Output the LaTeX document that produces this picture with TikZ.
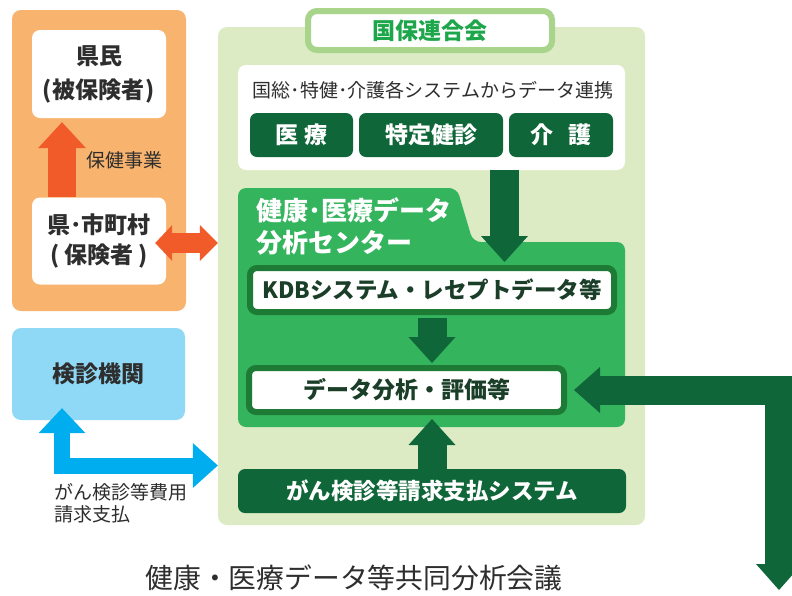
\documentclass[tikz,border=0pt]{standalone}
\usepackage{fontspec}
\setmainfont{Noto Sans CJK JP}
\usetikzlibrary{arrows.meta,calc}
\definecolor{orangeP}{HTML}{F8B46E}
\definecolor{orangeA}{HTML}{F15A29}
\definecolor{lgreen}{HTML}{DDEBC5}
\definecolor{kborder}{HTML}{A9D48C}
\definecolor{ktext}{HTML}{1EA64B}
\definecolor{dkgreen}{HTML}{0F6639}
\definecolor{mgreen}{HTML}{35B45E}
\definecolor{kdbborder}{HTML}{1D7B35}
\definecolor{lblue}{HTML}{8FD8F6}
\definecolor{blueA}{HTML}{00AEEF}
\definecolor{tdark}{HTML}{2E2E2E}
\definecolor{kdbtext}{HTML}{1A3E27}
\newcommand{\fs}[2]{\fontsize{#1}{#2}\selectfont}
\begin{document}
\begin{tikzpicture}[x=1pt,y=-1pt,
  panel/.style={inner sep=0pt, rounded corners=9pt},
  wbox/.style={fill=white, inner sep=0pt, rounded corners=8pt, align=center, text=tdark},
  dbox/.style={fill=dkgreen, inner sep=0pt, rounded corners=7pt, align=center, text=white, font=\bfseries\fs{23}{26}},
  obox/.style={fill=white, draw=kdbborder, line width=6pt, inner sep=0pt, rounded corners=7pt, align=center, text=kdbtext, font=\bfseries\fs{22.5}{26}},
  bigarrow/.style={draw=dkgreen, line width=29pt, line join=miter,
    -{Triangle[length=26pt,width=47pt,line width=0pt]}},
  dblgarrow/.style={draw=dkgreen, line width=29pt, line join=miter,
    {Triangle[length=26pt,width=46pt,line width=0pt]}-{Triangle[length=26pt,width=46pt,line width=0pt]}},
  oarrow/.style={draw=orangeA, line width=28pt,
    -{Triangle[length=26pt,width=48pt,line width=0pt]}},
  odarrow/.style={draw=orangeA, line width=20pt,
    {Triangle[length=17pt,width=36pt,line width=0pt]}-{Triangle[length=18pt,width=36pt,line width=0pt]}},
  barrow/.style={draw=blueA, line width=16pt, line join=miter,
    {Triangle[length=25pt,width=47pt,line width=0pt]}-{Triangle[length=25pt,width=45pt,line width=0pt]}},
  plain/.style={inner sep=0pt, text=tdark}
]
\useasboundingbox (0,0) rectangle (792,595);
\fill[white] (0,0) rectangle (792,595);

% panels
\node[panel, fill=orangeP, minimum width=174pt, minimum height=301pt] (opanel) at (99,160.5) {};
\node[panel, fill=lgreen, minimum width=427pt, minimum height=498pt] (lg) at (431.5,276) {};
\node[panel, fill=lblue, minimum width=173pt, minimum height=92pt, text=tdark, font=\bfseries\fs{23}{26}] (kenshin) at (98.5,374) {検診機関};

% left boxes
\node[wbox, minimum width=134pt, minimum height=88pt, font=\bfseries\fs{23}{34}] (kenmin) at (99,74) {県民\\(\kern1pt被保険者\kern1pt)};
\node[wbox, minimum width=134pt, minimum height=87pt, font=\bfseries\fs{23}{30}] (shichoson) at (99,241) {県･市町村\\(\kern5pt保険者\kern5pt)};
\node[plain, anchor=west, font=\fs{19}{22}] (hoken) at (86,160) {保健事業};

% kokuho
\node[fill=white, draw=kborder, line width=6pt, rounded corners=9pt, inner sep=0pt,
  minimum width=244pt, minimum height=39pt, text=ktext, font=\bfseries\fs{23}{26}] (kokuho) at (430,30.5) {国保連合会};

% systems box
\node[wbox, minimum width=387pt, minimum height=105pt] (sys) at (431.5,117.5) {};
\node[plain, font=\fs{19}{22}] (systxt) at (433,90) {国総･特健･介護各システムからデータ連携};
\node[dbox, minimum width=103pt, minimum height=44pt] (iryo) at (301.5,135) {医\hspace{0.25em}療};
\node[dbox, minimum width=144pt, minimum height=44pt] (tokutei) at (431,135) {特定健診};
\node[dbox, minimum width=104pt, minimum height=44pt] (kaigo) at (561,135) {介\hspace{0.65em}護};

% center green shape
\fill[mgreen, rounded corners=8pt] (238,427) -- (238,188) -- (457,188) -- (473,242) -- (625,242) -- (625,427) -- cycle;
\node[inner sep=0pt, anchor=west, align=left, text=white, font=\bfseries\fs{26}{32}] (center) at (256,226) {健康･医療データ\\分析センター};

\node[obox, minimum width=364pt, minimum height=44pt] (kdb) at (432,290) {KDBシステム・レセプトデータ等};
\node[obox, minimum width=315pt, minimum height=44pt, font=\bfseries\fs{23}{26}] (ana) at (406.5,390) {データ分析・評価等};

\node[dbox, minimum width=388pt, minimum height=44pt, font=\bfseries\fs{22.5}{26}] (gan) at (432,491) {がん検診等請求支払システム};

% texts
\node[plain, anchor=north west, align=left, font=\fs{19}{22}] (gantxt) at (54,483) {がん検診等費用\\請求支払};
\node[plain, font=\fs{27.8}{30}] (title) at (354,578) {健康・医療データ等共同分析会議};

% arrows
\draw[oarrow] ([xshift=-37pt]shichoson.north) -- ([xshift=-37pt,yshift=-4pt]kenmin.south);
\draw[odarrow] ([xshift=-11pt,yshift=-2pt]shichoson.east) -- (lg.west |- 0,243);
\draw[barrow] ([xshift=-36.5pt,yshift=12pt]kenshin.south) |- (lg.west |- 0,465.5);
\draw[bigarrow] (504.5,0 |- sys.south) -- ([yshift=3pt]504.5,0 |- kdb.north);
\draw[bigarrow] ([yshift=-3pt]kdb.south) -- ([yshift=2pt]kdb.south |- ana.north);
\draw[bigarrow] (gan.north) -- ([yshift=-4pt]gan.north |- ana.south);
\coordinate (kaigi) at (779,590);
\draw[dblgarrow] (kaigi) |- ([xshift=7pt]ana.east);
\end{tikzpicture}
\end{document}
